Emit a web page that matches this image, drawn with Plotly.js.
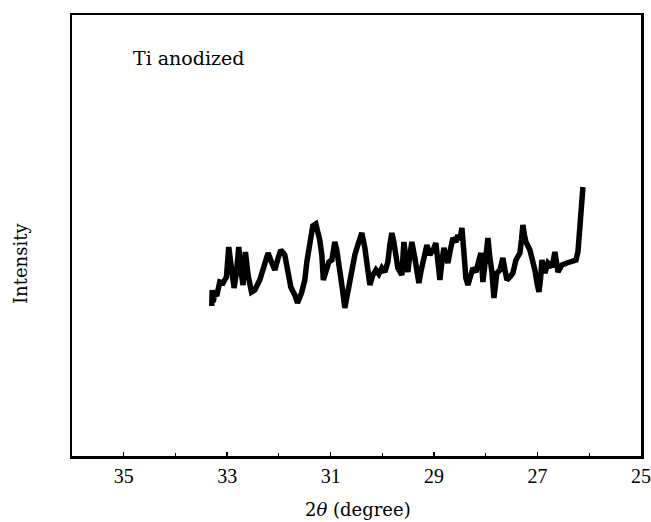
<!DOCTYPE html>
<html>
<head>
<meta charset="utf-8">
<script src="https://cdn.plot.ly/plotly-3.0.1.min.js"></script>
<style>
  html, body { margin: 0; padding: 0; background: #fff; }
  #chart { width: 651px; height: 522px; }
</style>
</head>
<body>
<div id="chart"></div>
<script>
// 2theta (degree)
const twoTheta = [
  33.298, 33.289, 33.269, 33.240, 33.202, 33.143, 33.080, 33.014, 32.970, 32.930,
  32.867, 32.820, 32.776, 32.723, 32.693, 32.647, 32.596, 32.530, 32.467, 32.370,
  32.287, 32.209, 32.144, 32.079, 32.015, 31.964, 31.886, 31.834, 31.770, 31.692,
  31.641, 31.563, 31.499, 31.460, 31.403, 31.345, 31.286, 31.248, 31.210, 31.170,
  31.141, 31.093, 31.035, 30.977, 30.919, 30.881, 30.842, 30.803, 30.764, 30.726,
  30.687, 30.629, 30.571, 30.532, 30.475, 30.435, 30.397, 30.338, 30.300, 30.242,
  30.184, 30.126, 30.068, 30.010, 29.952, 29.894, 29.856, 29.816, 29.778, 29.719,
  29.700, 29.623, 29.584, 29.546, 29.507, 29.468, 29.430, 29.372, 29.294, 29.256,
  29.216, 29.178, 29.140, 29.081, 29.043, 29.004, 28.965, 28.927, 28.888, 28.849,
  28.811, 28.772, 28.733, 28.694, 28.637, 28.578, 28.540, 28.502, 28.462, 28.424,
  28.386, 28.346, 28.308, 28.249, 28.192, 28.153, 28.095, 28.056, 28.018, 27.979,
  27.959, 27.921, 27.882, 27.843, 27.786, 27.727, 27.670, 27.630, 27.592, 27.534,
  27.476, 27.418, 27.341, 27.311, 27.283, 27.254, 27.224, 27.148, 27.089, 27.051,
  27.011, 26.973, 26.944, 26.915, 26.857, 26.799, 26.722, 26.664, 26.605, 26.528,
  26.432, 26.335, 26.257, 26.219, 26.180, 26.161, 26.122
];
// Intensity (arbitrary units)
const intensity = [
  150, 166, 154, 163, 160, 174, 173, 179, 209, 194,
  168, 184, 209, 181, 171, 204, 181, 164, 166, 176,
  188, 203, 194, 186, 198, 206, 201, 184, 169, 161,
  153, 163, 176, 194, 216, 230, 232, 226, 216, 201,
  176, 184, 194, 196, 214, 206, 188, 174, 164, 148,
  160, 174, 188, 201, 211, 218, 223, 208, 194, 171,
  181, 186, 182, 188, 184, 194, 211, 223, 214, 198,
  188, 181, 214, 198, 184, 201, 214, 198, 173, 184,
  194, 204, 211, 201, 204, 208, 213, 194, 176, 194,
  208, 201, 193, 204, 218, 214, 221, 216, 228, 204,
  178, 171, 178, 188, 184, 191, 203, 174, 188, 208,
  218, 198, 184, 158, 183, 186, 198, 186, 176, 179,
  183, 196, 203, 216, 231, 221, 214, 206, 196, 186,
  173, 164, 176, 196, 183, 193, 189, 204, 184, 191,
  193, 194, 196, 204, 226, 243, 269
];
const tickValues = [35, 33, 31, 29, 27, 25];
const tickLabels = ['35', '33', '31', '29', '27', '25'];
const sampleLabel = 'Ti anodized';
const xTitle = '2<i>θ</i> (degree)';
const yTitle = 'Intensity';

const serif = '"DejaVu Serif", "Liberation Serif", serif';

const trace = {
  x: twoTheta,
  y: intensity,
  type: 'scatter',
  mode: 'lines',
  line: { color: '#000', width: 5.5, shape: 'linear' },
  hoverinfo: 'skip'
};

const layout = {
  width: 651,
  height: 522,
  margin: { l: 72, r: 10, t: 15, b: 66 },
  paper_bgcolor: '#fff',
  plot_bgcolor: '#fff',
  showlegend: false,
  xaxis: {
    range: [36.0, 25],
    tickvals: tickValues,
    ticktext: tickLabels,
    ticks: 'inside',
    ticklen: 4,
    tickwidth: 1.5,
    tickcolor: '#000',
    minor: { dtick: 1, tick0: 25, ticks: 'inside', ticklen: 3, tickwidth: 1, tickcolor: '#000' },
    showline: true,
    linecolor: '#000',
    linewidth: 2.5,
    mirror: true,
    showgrid: false,
    zeroline: false,
    tickfont: { family: '"Liberation Serif", serif', size: 20, color: '#000' },
    ticklabelstandoff: 0
  },
  yaxis: {
    range: [0, 441],
    showticklabels: false,
    ticks: '',
    showline: true,
    linecolor: '#000',
    linewidth: 2.5,
    mirror: true,
    showgrid: false,
    zeroline: false
  },
  annotations: [
    {
      text: sampleLabel, xref: 'paper', yref: 'paper', x: 0.2039, y: 0.9025,
      xanchor: 'center', yanchor: 'middle', showarrow: false,
      font: { family: serif, size: 19, color: '#000' }
    },
    {
      text: yTitle, xref: 'paper', yref: 'paper', x: -0.0914, y: 0.4376,
      xanchor: 'center', yanchor: 'middle', showarrow: false, textangle: -90,
      font: { family: serif, size: 18, color: '#000' }
    },
    {
      text: xTitle, xref: 'paper', yref: 'paper', x: 0.5026, y: -0.1224,
      xanchor: 'center', yanchor: 'middle', showarrow: false,
      font: { family: serif, size: 18, color: '#000' }
    }
  ]
};

Plotly.newPlot('chart', [trace], layout, { staticPlot: true, displayModeBar: false });
</script>
</body>
</html>
